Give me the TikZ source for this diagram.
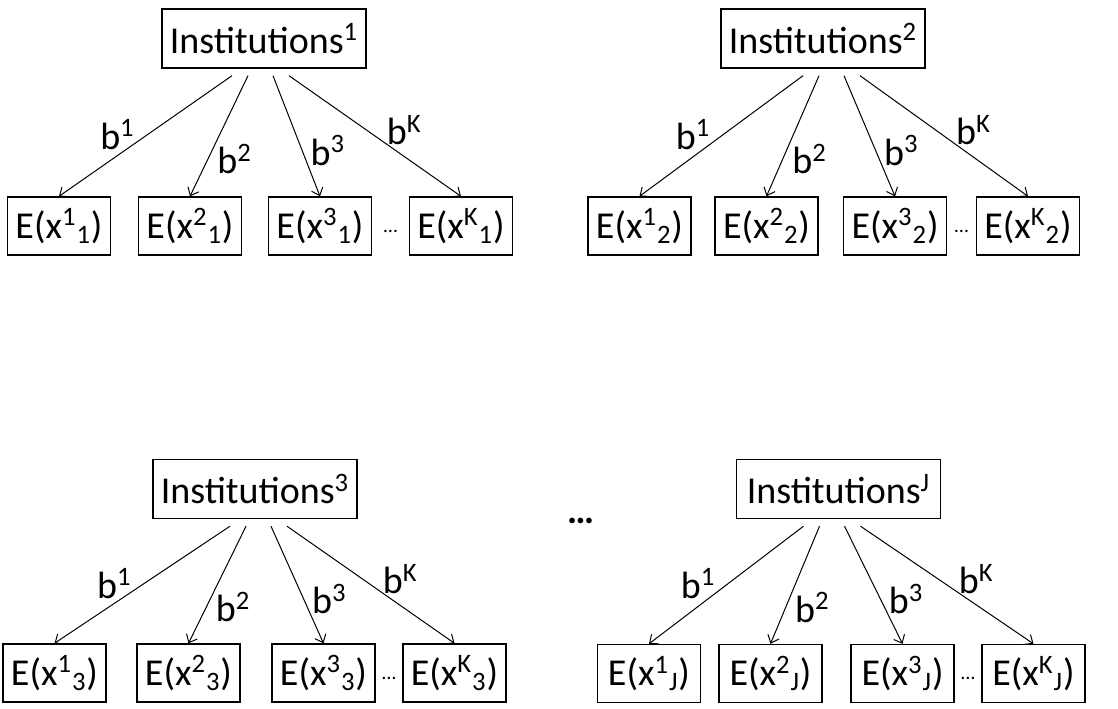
\documentclass[tikz,border=0pt]{standalone}
\usepackage{fontspec}
\setmainfont{Carlito}
\usetikzlibrary{arrows.meta,calc}

\tikzset{
  txt/.style={font=\fontsize{19}{23}\selectfont},
  instbox/.style={txt, draw, line width=0.7pt, minimum width=102pt, minimum height=29.5pt, inner sep=0pt},
  ebox/.style={txt, draw, line width=0.7pt, minimum width=51.5pt, minimum height=29pt, inner sep=0pt},
  weight/.style={txt, inner sep=2pt},
  link/.style={-{Straight Barb[length=3.5pt,width=6pt]}, line width=0.5pt},
}

\begin{document}
\begin{tikzpicture}[x=0.5pt, y=-0.5pt]
  \useasboundingbox (0,0) rectangle (1118,708);

  % one tree per institution set
  \foreach \t/\ix/\iy/\ey/\sx/\ea/\eb/\ec/\ed/\sub in {
      1/264/38.5/226/-4/59/190/320/461/1,
      2/823/38.5/226/8/639.5/766.5/895/1028/2,
      3/255/489/673/3/54.5/188.5/323.5/454.5/3,
      4/838.5/489/673.5/-7/649/770.5/902.5/1033.5/J} {
    \node[instbox] (inst\t) at (\ix,\iy) {Institutions\textsuperscript{\sub}};
    \node[ebox] (e\t-1) at (\ea,\ey) {E(x\textsuperscript{1}\textsubscript{\sub})};
    \node[ebox] (e\t-2) at (\eb,\ey) {E(x\textsuperscript{2}\textsubscript{\sub})};
    \node[ebox] (e\t-3) at (\ec,\ey) {E(x\textsuperscript{3}\textsubscript{\sub})};
    \node[ebox] (e\t-4) at (\ed,\ey) {E(x\textsuperscript{K}\textsubscript{\sub})};
    \node[font=\fontsize{10}{12}\selectfont, anchor=base] (gap\t) at ({(\ec+\ed)/2},{\ey+6}) {…};

    % weighted links
    \foreach \k/\dx/\lab/\side/\d/\p in {1/-28/1/east/4/0.49, 2/-12/2/west/2.5/0.69,
                                        3/13/3/west/2/0.62, 4/29/K/west/8/0.45}
      \draw[link] ($(inst\t.south)+({\sx+\dx},7)$) -- node[weight, anchor=\side, pos=\p, xshift={(\d)*(\k==1 ? -1 : 1)*1pt}] {b\textsuperscript{\lab}} (e\t-\k.north);
  }

  % more institution sets
  \node[txt, anchor=base] (more) at (581,523) {\textbf{…}};
\end{tikzpicture}
\end{document}
